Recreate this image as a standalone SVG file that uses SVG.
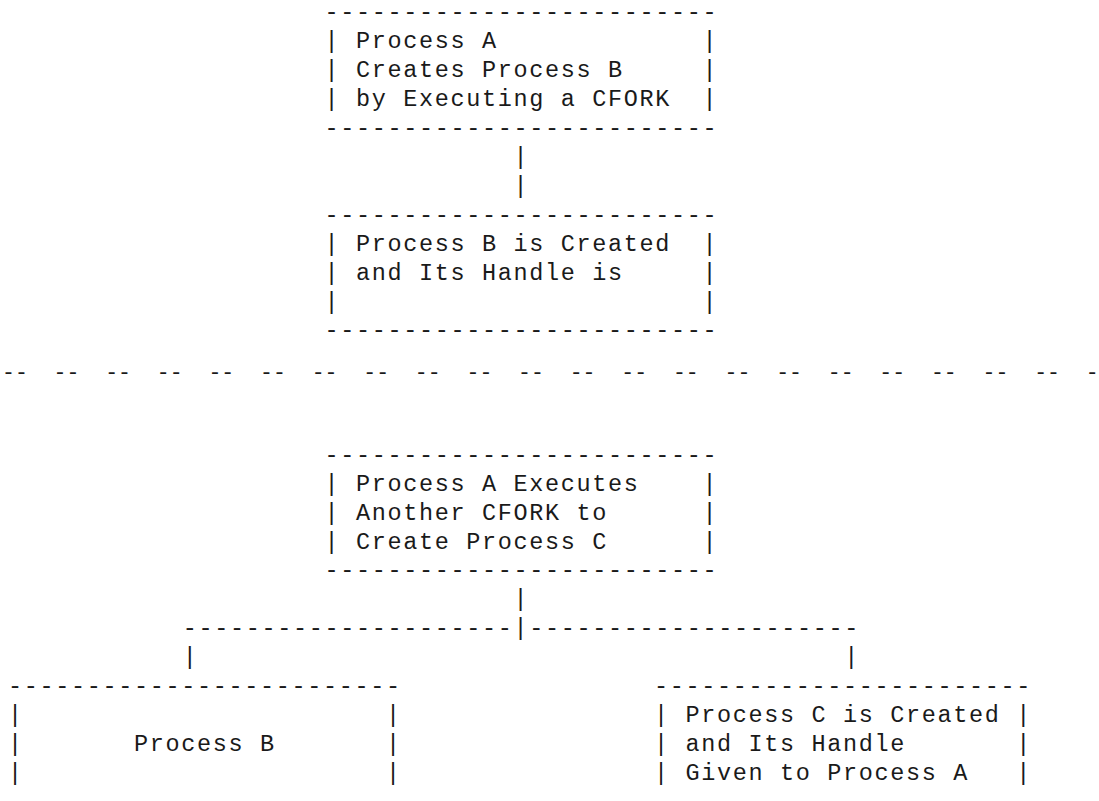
<svg xmlns="http://www.w3.org/2000/svg" width="1099" height="801" viewBox="0 0 1099 801">
<style>
text { font-family: "Liberation Mono", "Courier New", monospace; font-size: 23.5px; letter-spacing: 1.65px; fill: #1a1a1a; white-space: pre; }
.sep { font-size: 21.5px; letter-spacing: 0px; }
</style>
<rect width="1099" height="801" fill="#fff"/>
<g id="node-process-a-cfork">
<text x="324.45" y="19">-------------------------</text>
<text y="48"><tspan x="324.45">|</tspan><tspan x="355.95">Process A</tspan><tspan x="702.45">|</tspan></text>
<text y="77"><tspan x="324.45">|</tspan><tspan x="355.95">Creates Process B</tspan><tspan x="702.45">|</tspan></text>
<text y="106"><tspan x="324.45">|</tspan><tspan x="355.95">by Executing a CFORK</tspan><tspan x="702.45">|</tspan></text>
<text x="324.45" y="135">-------------------------</text>
</g>
<g id="node-process-b-created">
<text x="324.45" y="221.5">-------------------------</text>
<text y="250.5"><tspan x="324.45">|</tspan><tspan x="355.95">Process B is Created</tspan><tspan x="702.45">|</tspan></text>
<text y="279.5"><tspan x="324.45">|</tspan><tspan x="355.95">and Its Handle is</tspan><tspan x="702.45">|</tspan></text>
<text y="308.5"><tspan x="324.45">|</tspan><tspan x="702.45">|</tspan></text>
<text x="324.45" y="337">-------------------------</text>
</g>
<g id="separator">
<text class="sep" x="2" y="379">--  --  --  --  --  --  --  --  --  --  --  --  --  --  --  --  --  --  --  --  --  -</text>
</g>
<g id="node-process-a-executes">
<text x="324.45" y="461.5">-------------------------</text>
<text y="490.5"><tspan x="324.45">|</tspan><tspan x="355.95">Process A Executes</tspan><tspan x="702.45">|</tspan></text>
<text y="519.5"><tspan x="324.45">|</tspan><tspan x="355.95">Another CFORK to</tspan><tspan x="702.45">|</tspan></text>
<text y="548.5"><tspan x="324.45">|</tspan><tspan x="355.95">Create Process C</tspan><tspan x="702.45">|</tspan></text>
<text x="324.45" y="577">-------------------------</text>
</g>
<g id="node-process-b">
<text x="7.95" y="692.5">-------------------------</text>
<text y="721.5"><tspan x="7.95">|</tspan><tspan x="385.95">|</tspan></text>
<text y="750.5"><tspan x="7.95">|</tspan><tspan x="133.95">Process B</tspan><tspan x="385.95">|</tspan></text>
<text y="779.5"><tspan x="7.95">|</tspan><tspan x="385.95">|</tspan></text>
</g>
<g id="node-process-c-created">
<text x="653.95" y="692.5">------------------------</text>
<text y="721.5"><tspan x="653.95">|</tspan><tspan x="685.45">Process C is Created</tspan><tspan x="1016.2">|</tspan></text>
<text y="750.5"><tspan x="653.95">|</tspan><tspan x="685.45">and Its Handle</tspan><tspan x="1016.2">|</tspan></text>
<text y="779.5"><tspan x="653.95">|</tspan><tspan x="685.45">Given to Process A</tspan><tspan x="1016.2">|</tspan></text>
</g>
<g id="connectors">
<text x="513.45" y="163.5">|</text>
<text x="513.45" y="192.5">|</text>
<text x="513.45" y="606">|</text>
<text x="182.7" y="635">---------------------|---------------------</text>
<text y="664"><tspan x="182.7">|</tspan><tspan x="844.2">|</tspan></text>
</g>
</svg>
